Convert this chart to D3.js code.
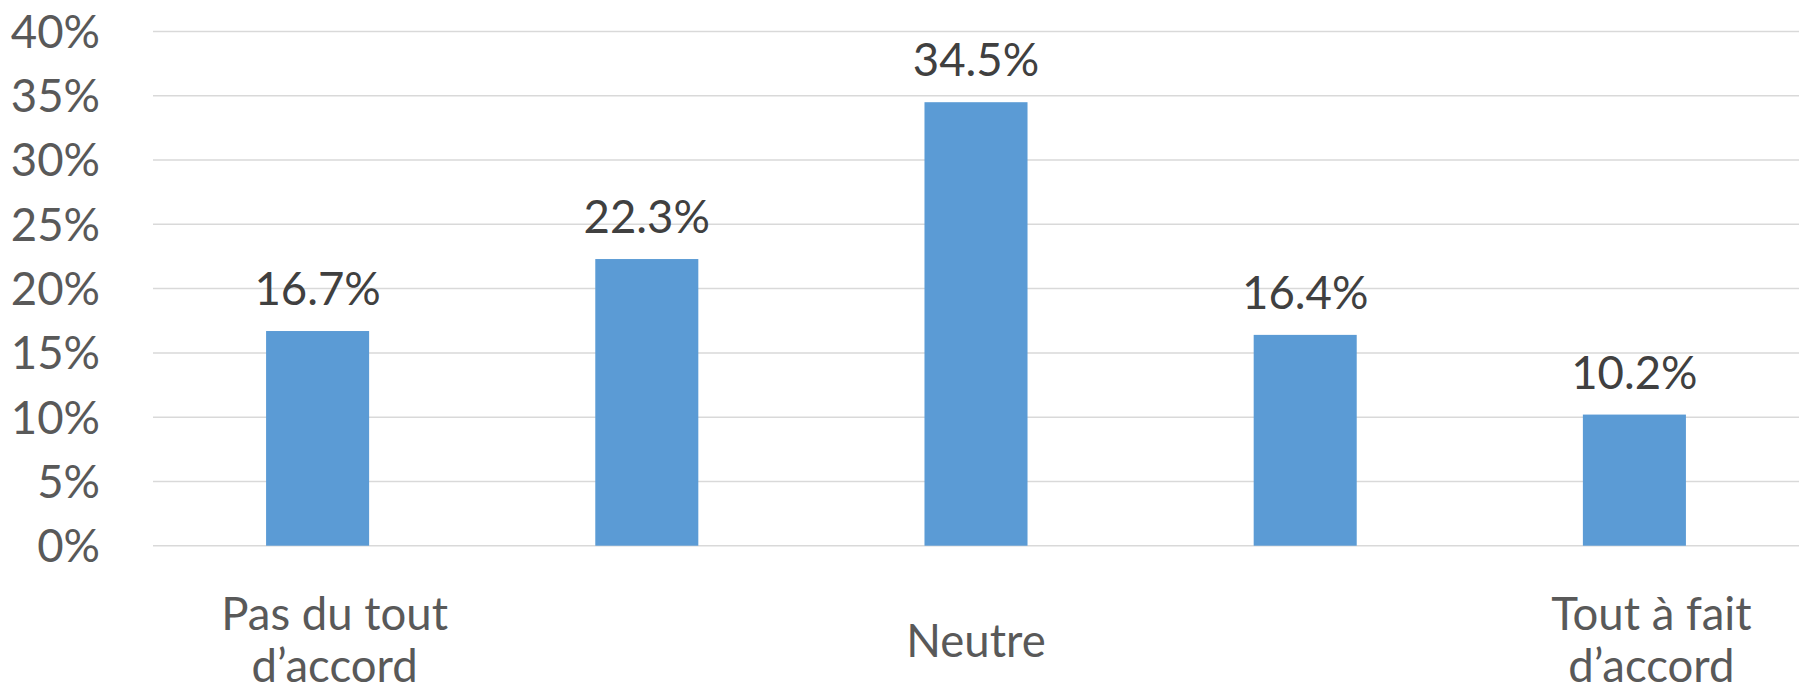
<!DOCTYPE html>
<html><head><meta charset="utf-8">
<script src="https://cdn.jsdelivr.net/npm/d3@7"></script>
<style>
html,body{margin:0;padding:0;background:#fff;}
svg{display:block;}
</style></head>
<body>
<script>
const categories = ["Pas du tout\nd’accord", "", "Neutre", "", "Tout à fait\nd’accord"];
const values = [16.7, 22.3, 34.5, 16.4, 10.2];
const yTicks = [0, 5, 10, 15, 20, 25, 30, 35, 40];

const W = 1806, H = 692;
const margin = {left: 153, right: 7, top: 31.5, bottom: 146.3};
const svg = d3.select("body").append("svg").attr("width", W).attr("height", H);
const font = "Lato, 'Open Sans', sans-serif";
const fs = 45.5;

const x = d3.scaleBand().domain(d3.range(categories.length))
  .range([margin.left, W - margin.right]).paddingInner(0.687).paddingOuter(0.3435);
const y = d3.scaleLinear().domain([0, 40]).range([H - margin.bottom, margin.top]);

// gridlines
svg.append("g").selectAll("line").data(yTicks).join("line")
  .attr("x1", margin.left).attr("x2", W - margin.right)
  .attr("y1", d => y(d)).attr("y2", d => y(d))
  .attr("stroke", "#d9d9d9").attr("stroke-width", 1.5);

// y axis labels
const yAxis = d3.axisLeft(y).tickValues(yTicks).tickFormat(d => d + "%").tickSize(0).tickPadding(0);
const ya = svg.append("g").attr("transform", `translate(100,0)`).call(yAxis);
ya.select(".domain").remove();
ya.selectAll("text").attr("font-family", font).attr("font-size", fs).attr("fill", "#595959").attr("dy", "0.35em");

// bars
svg.append("g").selectAll("rect").data(values).join("rect")
  .attr("x", (d, i) => x(i)).attr("width", x.bandwidth())
  .attr("y", d => y(d)).attr("height", d => y(0) - y(d))
  .attr("fill", "#5b9bd5");

// data labels
svg.append("g").selectAll("text").data(values).join("text")
  .attr("x", (d, i) => x(i) + x.bandwidth() / 2)
  .attr("y", d => y(d) - 26)
  .attr("text-anchor", "middle")
  .attr("font-family", font).attr("font-size", fs).attr("fill", "#404040")
  .text(d => d.toFixed(1) + "%");

// category labels
const cg = svg.append("g");
categories.forEach((c, i) => {
  if (!c) return;
  const lines = c.split("\n");
  const multi = lines.length > 1;
  const cx = x(i) + x.bandwidth() / 2 + (multi ? 17 : 0);
  const lh = 52;
  const baseY = multi ? 630 : 657;
  const t = cg.append("text").attr("text-anchor", "middle")
    .attr("font-family", font).attr("font-size", fs).attr("fill", "#595959");
  lines.forEach((l, k) => {
    t.append("tspan").attr("x", cx).attr("y", baseY + k * lh).text(l);
  });
});
</script>
</body></html>
